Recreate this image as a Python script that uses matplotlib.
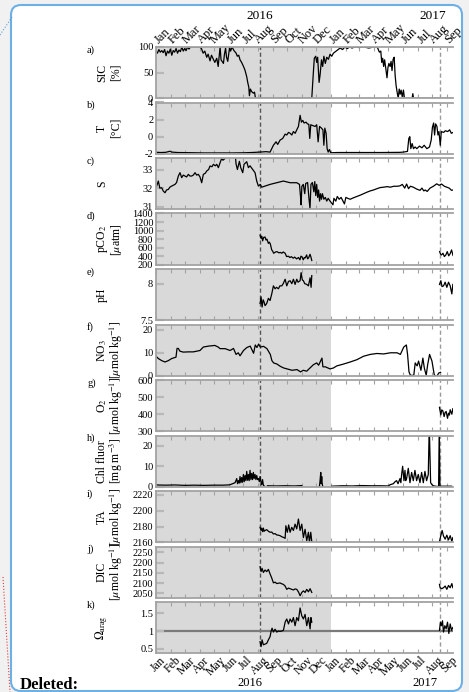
import datetime as dt
import numpy as np
import matplotlib
matplotlib.use("Agg")
import matplotlib.pyplot as plt
from matplotlib.patches import FancyBboxPatch, Rectangle
from matplotlib.transforms import blended_transform_factory

plt.rcParams['font.family'] = ['Liberation Serif', 'DejaVu Serif']
plt.rcParams['mathtext.fontset'] = 'stix'

W, H = 469, 692

# time axis is in days since 1 Jan 2016
t0 = dt.date(2016, 1, 1)
xmax = 621
cruise_2016 = 217.6
cruise_2017 = 593.5
month_names = ['Jan', 'Feb', 'Mar', 'Apr', 'May', 'Jun', 'Jul', 'Aug', 'Sep', 'Oct', 'Nov', 'Dec']
year_top = [(216, '2016'), (579, '2017')]
year_bot = [(197, '2016'), (562, '2017')]

# ---- series: (day, value) ----
sic_pts = [(0, 92), (3, 88), (6, 95), (9, 90), (12, 93), (15, 89), (18, 95), (21, 83), (24, 92), (27, 88),
           (30, 96), (33, 84), (36, 93), (39, 90), (42, 97), (45, 88), (48, 94), (51, 91), (54, 100), (57, 92),
           (60, 97), (63, 93), (66, 100), (69, 96), (72, 100), (80, 100), (92, 100), (95, 97), (98.5, 88),
           (102, 92), (106, 80), (109, 86), (113, 73), (116, 84), (120, 76), (123, 70), (127, 78), (130, 62),
           (134, 100), (136, 75), (141, 68), (143, 85), (145.5, 98), (147.5, 80), (150, 72), (154, 100),
           (156, 92), (159, 100), (163, 93), (167.5, 88), (170, 82), (173, 84), (175.7, 75), (179, 70),
           (183, 62), (186, 55), (189.7, 42), (192, 30), (194, 22), (195.3, 5), (197.4, 18), (200, 13),
           (203.6, 10), (206, 12), (208, 0), (323, 0), (325.7, 0), (329, 50), (331, 78), (334, 82), (336, 70),
           (338, 80), (341, 31), (343, 45), (346, 75), (348.5, 62), (351, 82), (354, 68), (357, 80),
           (360.5, 76), (364, 86), (367.5, 82), (371, 88), (378, 93), (385, 98), (390, 95), (395, 100),
           (400, 97), (405, 100), (410, 98), (415, 100), (425, 99), (435, 100), (445, 98), (455, 100),
           (462, 100), (464, 97), (467, 90), (470, 92), (472, 70), (474, 78), (476, 62), (478, 75),
           (480.5, 58), (483, 40), (485, 60), (487, 68), (489.5, 62), (491.5, 72), (493.5, 54), (495.8, 76),
           (498, 80), (500, 45), (502, 25), (504.5, 10), (506.5, 0), (508.5, 18), (510.5, 8), (512.5, 16),
           (514.8, 3), (517.4, 16), (519.5, 0), (535.5, 0), (537, 9), (538.5, 0), (621, 0)]

t_pts = [(0, -1.82), (10, -1.85), (20, -1.83), (26, -1.75), (29, -1.7), (33, -1.8), (45, -1.85),
         (70, -1.87), (100, -1.9), (130, -1.9), (160, -1.9), (185, -1.88), (200, -1.85), (217, -1.8),
         (230, -1.75), (238.5, -1.8), (242, -1.4), (245.5, -1.0), (251, -0.6), (254.5, -0.9), (259.4, -0.4),
         (265, -0.2), (270, 0.3), (273.4, 0.2), (277, 0.5), (280.4, 0.4), (284, 0.2), (287.3, 0.6),
         (291, 0.4), (294.3, 0.8), (297.8, 1.2), (301.3, 2.5), (304, 1.7), (307, 1.9), (309.6, 1.6),
         (313.8, 1.7), (316.6, 1.5), (319.5, 1.45), (321.5, -0.2), (323.6, 1.4), (327.8, 1.3), (332.7, 1.2),
         (336, 1.4), (339, -0.6), (342, 1.2), (346, 1.0), (349, 0.8), (351, -1.0), (353, 1.0), (355.7, 0.4),
         (357.8, -1.4), (360, -1.8), (362.6, -1.5), (365.4, -1.88), (380, -1.85), (420, -1.85),
         (470, -1.85), (510, -1.83), (517, -1.8), (525.8, -1.72), (528.6, -0.2), (530.7, 0.0),
         (532.8, -1.4), (535.6, -0.8), (538.4, -1.4), (541.8, -1.2), (545.3, -1.4), (551, -1.1),
         (556, -1.3), (560.7, -1.0), (566.3, -1.4), (571.9, -1.2), (575.4, -0.4), (578, 1.1), (580.5, 1.6),
         (582.5, 0.2), (584.6, 1.5), (587.4, 1.2), (589.5, 0.2), (591.6, 0.6), (594.4, -1.0), (596.5, 0.6),
         (601.4, 0.5), (604.9, 0.7), (609.8, 0.6), (614, 0.8), (617.5, 0.4), (621, 0.5)]

s_pts = [(1.4, 32.11), (4.9, 32.38), (8, 32.0), (11.9, 32.02), (15, 31.85), (18.8, 31.75), (22, 31.9),
         (25.8, 31.93), (29, 32.05), (32.8, 32.11), (36, 32.15), (39.7, 32.2), (43, 32.3), (46.7, 32.65),
         (50.2, 32.83), (53.7, 32.56), (57, 32.7), (60.7, 32.65), (64, 32.6), (67.6, 32.74), (71, 32.65),
         (74.6, 32.65), (78, 32.7), (81.6, 32.83), (85, 32.7), (88.5, 32.74), (92, 32.6), (95.5, 32.29),
         (99, 32.74), (103, 32.8), (106, 32.92), (110, 33.0), (113, 33.19), (117, 33.15), (120, 33.28),
         (124, 33.2), (127, 33.28), (130.4, 33.1), (133, 33.3), (135.3, 33.46), (137.4, 33.6), (140, 33.5),
         (144.4, 33.6), (146.5, 33.9), (165.3, 33.9), (167.4, 33.3), (170.2, 33.0), (174.4, 33.44),
         (177.2, 33.1), (181.3, 32.83), (184.1, 33.28), (189.7, 33.42), (193.2, 33.1), (196.6, 33.2),
         (202.2, 33.0), (207.1, 32.83), (210.6, 32.38), (214.1, 32.11), (218, 32.2), (221.1, 32.05),
         (228, 32.11), (238.5, 32.2), (252.5, 32.29), (266.4, 32.38), (280.4, 32.29), (294.3, 32.29),
         (297, 32.25), (300, 32.2), (302, 31.6), (303.4, 31.1), (305, 32.1), (308, 32.2), (311, 31.7),
         (313, 32.25), (317, 32.3), (320, 31.4), (322, 30.9), (324, 32.2), (327, 32.3), (330, 31.8),
         (332, 32.35), (334, 31.6), (336, 32.2), (338, 31.5), (340, 31.9), (342, 31.3), (344, 31.7),
         (346, 31.4), (348, 31.7), (351, 31.4), (354, 31.5), (357, 31.3), (360, 31.45), (364, 31.3),
         (367, 31.2), (370, 31.1), (372, 31.45), (376, 31.3), (379, 31.55), (383, 31.4), (387, 31.5),
         (391, 31.3), (394, 31.15), (397, 31.5), (401, 31.45), (406, 31.4), (412, 31.47), (420, 31.55),
         (427, 31.62), (434, 31.7), (441, 31.78), (448, 31.85), (455, 31.9), (462, 31.97), (469, 32.03),
         (476, 32.05), (483, 32.08), (490, 32.05), (497, 32.1), (504, 32.1), (510, 32.12), (515, 32.2),
         (520, 32.0), (524, 32.22), (528, 31.97), (532, 32.1), (538, 32.05), (545, 31.95), (552, 31.88),
         (556, 32.0), (560, 31.85), (563, 31.9), (567, 31.82), (573, 32.0), (580, 32.1), (587, 32.23),
         (592, 32.15), (597, 32.22), (603, 32.1), (608, 32.05), (613, 32.0), (618, 31.88), (621, 31.9)]

pco2_16 = [(217.6, 893), (219.5, 820), (221, 870), (223, 760), (225, 840), (228, 850), (230, 780),
           (232, 800), (235, 700), (237, 730), (239, 690), (242, 547), (244, 520), (246, 470), (250, 500),
           (253, 508), (257, 480), (260, 490), (263, 470), (266, 500), (270, 470), (273, 393), (277, 400),
           (280, 370), (283, 390), (287, 355), (290, 380), (294, 339), (298, 370), (301, 316), (303, 400),
           (305, 393), (308, 316), (310, 370), (312, 360), (315, 431), (317, 340), (319, 360), (322, 446),
           (324, 380), (325.7, 300)]
pco2_17 = [(593, 508), (595, 450), (597, 431), (600, 470), (603, 393), (606, 430), (609, 508),
           (612, 410), (615, 460), (618, 547), (621, 420)]

ph_16 = [(217.6, 7.73), (219.7, 7.82), (221.8, 7.68), (224, 7.78), (226, 7.75), (228, 7.70), (231.5, 7.73),
         (235, 7.80), (238.5, 7.77), (242, 7.86), (245.5, 7.97), (249, 7.93), (252, 7.95), (256, 7.93),
         (259, 7.97), (263, 7.97), (266, 8.0), (270, 8.06), (273.4, 7.97), (277, 8.03), (280.4, 8.04),
         (284, 8.0), (287.3, 8.06), (290.8, 7.99), (294.3, 8.06), (297, 8.02), (301.3, 8.04), (303.4, 8.15),
         (306, 8.05), (308.2, 8.04), (311, 8.0), (315.2, 7.99), (318.7, 7.97), (322.2, 8.08), (324.3, 7.95),
         (325.7, 8.11)]
ph_17 = [(592.8, 7.99), (595.6, 8.04), (598, 7.96), (601.2, 7.97), (604.6, 8.02), (608.1, 7.95),
         (611.6, 8.02), (615.1, 7.97), (618.6, 7.86), (620.7, 7.99)]

no3_pts = [(0, 8.5), (4.9, 7.5), (11.9, 6.6), (18.8, 6.0), (25.8, 6.6), (32.8, 7.5), (41.8, 8.1),
           (44, 11.9), (46.7, 11.9), (50, 10.7), (57, 10.3), (67.6, 10.4), (78, 10.4), (92, 11.0),
           (99, 12.5), (109.5, 12.9), (123, 13.2), (130, 12.5), (134, 11.8), (144.5, 11.8), (155, 11.0),
           (162, 11.9), (167.4, 9.3), (172, 10.0), (175.7, 8.7), (183, 11.0), (190, 12.3), (197, 12.9),
           (204, 9.8), (207.6, 13.4), (211, 12.3), (214.7, 13.8), (218, 12.5), (225, 12.8), (232, 11.8),
           (239, 9.3), (242.3, 6.6), (246, 5.6), (253, 5.1), (260, 4.1), (267, 3.4), (274, 3.0),
           (284.5, 2.4), (295, 2.7), (302, 1.7), (308, 2.4), (315, 2.0), (322, 3.4), (329, 4.8), (336, 5.6),
           (340, 4.6), (347, 7.7), (349, 3.9), (354, 3.9), (364, 3.0), (371, 3.4), (378, 4.3), (392, 5.1),
           (406, 6.0), (420, 7.0), (434, 8.5), (448, 9.3), (462, 9.7), (476, 9.5), (490, 10.0), (504, 10.0),
           (511, 9.3), (518, 12.5), (523.5, 13.4), (526, 9.3), (529, 1.7), (532, 0.2), (539, 0.2),
           (542, 5.6), (546, 4.3), (549, 6.4), (554, 2.4), (558, 7.7), (561, 3.4), (565, 0.2), (568, 4.8),
           (572, 9.3), (577, 6.4), (582, 0.2), (588, 0.0), (591, 1.2), (595, 1.5)]

o2_pts = [(592.7, 440), (595.5, 396), (597.5, 425), (599.7, 420), (602.5, 386), (604.5, 410),
          (606.7, 416), (609.5, 376), (611.6, 406), (613.5, 395), (615.1, 426), (618.6, 400), (620.7, 432)]

nan = np.nan
chl_pts = [(0, 0.9), (20, 0.8), (40, 0.9), (60, 0.7), (80, 0.8), (100, 0.7), (120, 0.8), (140, 0.8),
           (150, 0.9), (154.8, 1.0), (160, 1.5), (165.3, 2.0), (168.8, 4.0), (170.5, 1.5), (172.2, 3.0),
           (174, 1.8), (175.7, 5.0), (177.5, 2.0), (179.2, 4.5), (181, 2.2), (182.7, 6.0), (184.5, 2.5),
           (186.2, 5.5), (188, 3.0), (189.7, 7.5), (191.4, 3.2), (193.1, 6.0), (194.8, 3.0), (196.6, 8.0),
           (198.4, 3.5), (200.1, 6.5), (201.9, 3.5), (203.6, 7.0), (205.3, 4.0), (207.1, 6.0), (208.9, 3.5),
           (210.6, 5.5), (212.4, 3.5), (214.1, 4.0), (216, 2.5), (217.6, 5.0), (219.3, 2.5), (221.1, 1.0),
           (222.8, 3.5), (224.5, 0.8), (226.6, 0.3), (229, nan), (233, 0.5), (250, 0.4), (270, 0.5),
           (290, 0.4), (304.8, 0.6), (320, nan), (341.7, 0.1), (343, 3.0), (344.5, 7.0), (345.5, 1.5),
           (346.5, 5.0), (347.3, 2.0), (348.7, 0.0), (355, nan), (367.5, 0.3), (390, 0.5), (410, 0.4),
           (430, 0.6), (450, 0.5), (470, 0.5), (485.9, 0.4), (489.3, 1.0), (496.2, 1.5), (500, 2.5),
           (503.1, 3.0), (506, 1.5), (510.1, 4.0), (512, 2.0), (513.6, 6.0), (515.7, 10.0), (518.5, 3.0),
           (520.6, 8.0), (522, 3.0), (524, 4.0), (527.5, 9.0), (531, 2.0), (534.5, 7.0), (538, 3.0),
           (541.4, 8.0), (544.9, 3.0), (548.4, 6.0), (551.9, 2.0), (555.4, 7.0), (558.9, 2.0), (562.3, 7.5),
           (565.8, 3.0), (569.3, 6.0), (571.4, 30), (574.2, 2.0), (577, 1.0), (579.8, 0.5), (586.8, 0.2),
           (590.9, 0.2), (592.3, 30), (593.7, 0.3), (605, 0.3), (618.1, 0.3)]

ta_16 = [(217.6, 2179), (219.5, 2175), (221.1, 2178), (223, 2173.5), (224.5, 2178), (226, 2174),
         (228, 2175), (231.5, 2176), (235, 2174), (238.5, 2172.7), (242, 2173), (245.5, 2170.5), (249, 2171),
         (252.5, 2169.3), (256, 2169), (259.4, 2168.4), (263, 2167), (266.4, 2166.3), (270, 2165),
         (271.5, 2181), (274.6, 2172.7), (277.4, 2182), (280.4, 2172.7), (283.8, 2179), (287.3, 2175),
         (290.8, 2183), (294.3, 2177), (297.8, 2189.5), (301.3, 2175), (304.8, 2183), (308.2, 2166),
         (311.7, 2176.5), (315.2, 2162), (318.7, 2172.7), (320.8, 2160), (323.6, 2172.7), (325.7, 2161)]
ta_17 = [(592.7, 2161), (595.5, 2168.4), (598.3, 2175), (601.1, 2168), (604.6, 2164), (608.1, 2169),
         (611.6, 2163), (615.1, 2168.4), (618.6, 2161), (620.7, 2166)]

dic_16 = [(217.6, 2180), (219.7, 2156), (221.8, 2172), (224.5, 2152), (228, 2164), (231.5, 2156),
          (235, 2167), (238.5, 2145), (242, 2125), (245.5, 2101.6), (249, 2105), (252.5, 2098), (256, 2100),
          (259.4, 2101), (263, 2097), (266.4, 2094), (270, 2086), (273.4, 2070), (277, 2076), (280.4, 2073),
          (284, 2070), (287.3, 2067), (290.8, 2072), (294.3, 2070), (297.8, 2058), (301.3, 2039),
          (304.8, 2055), (308.2, 2062.5), (311.7, 2055), (315.2, 2070), (318.7, 2058), (322.2, 2073),
          (325.7, 2055)]
dic_17 = [(592.7, 2094), (594.1, 2078), (597.6, 2073), (601.1, 2078), (604.6, 2086), (608.1, 2070),
          (611.6, 2089), (615.1, 2078), (618.6, 2098), (620.7, 2078)]

om_16 = [(217.6, 0.70), (219.7, 0.56), (221.8, 0.75), (224.5, 0.61), (228, 0.63), (231.5, 0.65),
         (235, 0.75), (238.5, 0.84), (240.6, 0.99), (242.7, 1.08), (245.5, 0.97), (249, 1.05),
         (252.5, 0.97), (256, 1.0), (259.4, 0.99), (263, 1.0), (266.4, 1.02), (270, 1.25), (273.4, 1.34),
         (277, 1.2), (280.4, 1.34), (284, 1.25), (287.3, 1.38), (290.8, 1.15), (294.3, 1.38), (297.8, 1.29),
         (301.3, 1.65), (304.8, 1.43), (308.2, 1.34), (311.7, 1.47), (315.2, 1.15), (318.7, 1.38),
         (322.2, 1.06), (324, 1.38), (325.7, 1.25)]
om_17 = [(592.7, 1.02), (594.8, 1.25), (596.9, 1.15), (599, 1.29), (601.1, 0.97), (603.9, 1.15),
         (606.7, 1.06), (609.5, 1.25), (612.3, 0.93), (615.1, 1.2), (617.9, 1.02), (620.7, 1.1)]

umol = '[$\\mu$mol kg$^{-1}$]'
panels = [
    ('a)', 'SIC', '[%]', (0, 100), [0, 50, 100], ['0', '50', '100'], [sic_pts]),
    ('b)', 'T', '[°C]', (-2, 4), [-2, 0, 2, 4], ['-2', '0', '2', '4'], [t_pts]),
    ('c)', 'S', None, (30.86, 33.62), [31, 32, 33], ['31', '32', '33'], [s_pts]),
    ('d)', 'pCO$_2$', '[$\\mu$atm]', (200, 1400), [200, 400, 600, 800, 1000, 1200, 1400],
     ['200', '400', '600', '800', '1000', '1200', '1400'], [pco2_16, pco2_17]),
    ('e)', 'pH', None, (7.5, 8.2), [7.5, 8], ['7.5', '8'], [ph_16, ph_17]),
    ('f)', 'NO$_3$', umol, (0, 22.3), [0, 10, 20], ['0', '10', '20'], [no3_pts]),
    ('g)', 'O$_2$', umol, (300, 600), [300, 400, 500, 600], ['300', '400', '500', '600'], [o2_pts]),
    ('h)', 'Chl fluor', '[mg m$^{-3}$]', (0, 25), [0, 10, 20], ['0', '10', '20'], [chl_pts]),
    ('i)', 'TA', umol, (2160, 2225), [2160, 2180, 2200, 2220], ['2160', '2180', '2200', '2220'], [ta_16, ta_17]),
    ('j)', 'DIC', umol, (2029, 2278), [2050, 2100, 2150, 2200, 2250],
     ['2050', '2100', '2150', '2200', '2250'], [dic_16, dic_17]),
    ('k)', '$\\Omega_{\\mathrm{arag}}$', None, (0.37, 1.82), [0.5, 1, 1.5], ['0.5', '1', '1.5'], [om_16, om_17]),
]


def fx(x):
    return x / W


def fy(y):
    return 1 - y / H


months = []
for yr in (2016, 2017):
    for m in range(1, 13):
        if yr == 2017 and m > 9:
            break
        start = (dt.date(yr, m, 1) - t0).days
        mid = (dt.date(yr, m, 15) - t0).days
        early = (dt.date(yr, m, 5) - t0).days
        months.append((start, mid, early, month_names[m - 1]))
month_starts = [mm[0] for mm in months]

fig = plt.figure(figsize=(W / 100, H / 100), dpi=100)
fig.patch.set_facecolor('#f1f1f1')

# page background: white rounded box
bg = fig.add_axes([0, 0, 1, 1])
bg.set_zorder(-5)
bg.set_xlim(0, W)
bg.set_ylim(H, 0)
bg.axis('off')
bg.add_patch(FancyBboxPatch((11, 5), 451, 686, boxstyle='round,pad=0,rounding_size=10',
                            facecolor='white', edgecolor='none'))

grey = '#a3a3a3'
top0, ph, gap = 47.0, 51.3, 4.2
axes = []
for i, (letter, lab1, lab2, ylim, yt, ytl, series) in enumerate(panels):
    top = top0 + i * (ph + gap)
    ax = fig.add_axes([fx(156), fy(top + ph), fx(297), ph / H])
    axes.append(ax)
    ax.axvspan(0, 366, facecolor='#d9d9d9', edgecolor='none', zorder=0)
    ax.axvline(cruise_2016, color='#555555', lw=1.0, ls=(0, (3, 2)), zorder=1)
    ax.axvline(cruise_2017, color='#9a9a9a', lw=1.0, ls=(0, (3, 2)), zorder=1)
    if letter == 'k)':
        ax.axhline(1, color='#7a7a7a', lw=1.6, zorder=1.5)
    for pts in series:
        d, v = zip(*pts)
        ax.plot(d, v, color='black', lw=0.9, zorder=2)
    ax.set_xlim(0, xmax)
    ax.set_ylim(*ylim)
    ax.set_yticks(yt)
    ax.set_yticklabels(ytl)
    ax.set_xticks(month_starts)
    ax.tick_params(axis='x', which='both', direction='in', length=3, width=0.8, color=grey,
                   top=True, bottom=True, labelbottom=False)
    ax.tick_params(axis='y', direction='in', length=6, width=1.6, color='#b8b8b8',
                   labelsize=7.5, pad=2)
    for side, s in ax.spines.items():
        s.set_color(grey)
        s.set_linewidth(1.3)
    ax.spines['right'].set_visible(False)

    fig.text(fx(87), fy(top + 3), letter, ha='left', va='center', fontsize=7.5)
    fig.text(fx(102), fy(top + ph / 2), lab1, rotation=90, ha='center', va='center', fontsize=8.5)
    if lab2:
        fig.text(fx(116), fy(top + ph / 2), lab2, rotation=90, ha='center', va='center', fontsize=8.5)

# month labels top and bottom
tr_top = blended_transform_factory(axes[0].transData, fig.transFigure)
tr_bot = blended_transform_factory(axes[-1].transData, fig.transFigure)
for start, mid, early, name in months:
    axes[0].text(mid, fy(46.5), name, transform=tr_top, rotation=45, ha='center', va='bottom',
                 fontsize=9, clip_on=False)
    axes[-1].text(early, fy(654.5), name, transform=tr_bot, rotation=45, ha='center', va='top',
                  fontsize=8.5, clip_on=False)
for d, lab in year_top:
    axes[0].text(d, fy(16), lab, transform=tr_top, ha='center', va='center', fontsize=9.5, clip_on=False)
for d, lab in year_bot:
    axes[-1].text(d, fy(682.5), lab, transform=tr_bot, ha='center', va='center', fontsize=9, clip_on=False)

# overlay: page margin, box border, markup
ov = fig.add_axes([0, 0, 1, 1])
ov.set_zorder(10)
ov.set_xlim(0, W)
ov.set_ylim(H, 0)
ov.axis('off')
ov.add_patch(Rectangle((463, 0), 6, H, facecolor='#f1f1f1', edgecolor='none'))
ov.add_patch(FancyBboxPatch((11, 5), 451, 686, boxstyle='round,pad=0,rounding_size=10',
                            facecolor='none', edgecolor='#6db0e6', lw=1.5))
ov.plot([0, 12], [35, 17], color='#5b9bd5', lw=0.8, ls=':')
ov.plot([3, 10], [577, 692], color='#e03c3c', lw=0.8, ls=':')
ov.text(20, 689, 'Deleted:', fontweight='bold', fontsize=12, ha='left', va='baseline')

fig.savefig('out.png', dpi=100, facecolor=fig.get_facecolor())
